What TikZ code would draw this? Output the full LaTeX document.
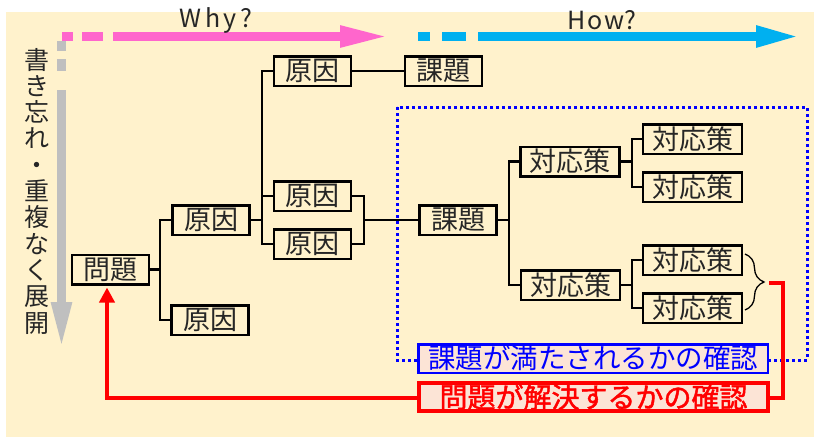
\documentclass[tikz,border=0pt]{standalone}
\usepackage{fontspec}
\setmainfont{Noto Sans CJK JP}
\newfontfamily\semibold{Noto Sans CJK JP}[FakeBold=1.6]
\usetikzlibrary{arrows.meta,decorations.pathreplacing}
\definecolor{bgc}{HTML}{FFF2CC}
\definecolor{pinkc}{HTML}{FF66CC}
\definecolor{skyc}{HTML}{00B0F0}
\definecolor{grayc}{HTML}{BFBFBF}
\definecolor{notefill}{HTML}{FCE4D6}
\definecolor{pureblue}{HTML}{0000FF}
\definecolor{purered}{HTML}{FF0000}
\begin{document}
\begin{tikzpicture}[x=1pt,y=-1pt,
  box/.style={draw=black,line width=2.5pt,fill=bgc,inner sep=0pt,minimum height=29.5pt,
    font=\fontsize{27}{28}\selectfont,text=black!85},
  box2/.style={box,minimum width=77pt},
  box3/.style={box,minimum width=99pt},
  conn/.style={line width=2.5pt,black},
  bigarrow/.style={line width=8.4pt},
  redline/.style={line width=4pt,purered},
  headlbl/.style={font=\fontsize{25}{26}\selectfont,text=black!85},
]
\useasboundingbox (0,0) rectangle (814,437);
\fill[white] (0,0) rectangle (814,437);
\fill[bgc] (6,12) rectangle (814,437);

% direction arrows
\fill[pinkc] (62,32.3) rectangle (73,40.7);
\fill[pinkc] (82,32.3) rectangle (103,40.7);
\draw[bigarrow,pinkc,-{Triangle[length=48pt,width=20pt]}] (113,36.5) -- (388,36.5);
\node[headlbl] (why) at (216,20.5) {W\hspace{3.5pt}h\hspace{3.5pt}y\hspace{3.5pt}?};

\fill[skyc] (418,32.3) rectangle (430,40.7);
\fill[skyc] (442,32.3) rectangle (466,40.7);
\draw[bigarrow,skyc,-{Triangle[length=43pt,width=20pt]}] (478,36.5) -- (799,36.5);
\node[headlbl] (how) at (602,20.5) {H\hspace{2pt}o\hspace{2pt}w?};

\fill[grayc] (57.3,41) rectangle (65.7,51);
\fill[grayc] (57.3,59) rectangle (65.7,71);
\draw[bigarrow,grayc,-{Triangle[length=46pt,width=19pt]}] (61.5,90) -- (61.5,348);

\node[font=\fontsize{25}{26.3}\selectfont,align=center,inner sep=0pt,text=black!85] (vtext) at (37,191)
  {書\\き\\忘\\れ\\・\\重\\複\\な\\く\\展\\開};

% blue dotted frame
\draw[pureblue,line width=3pt,dash pattern=on 3pt off 3pt] (397,107) rectangle (807,360);

% tree nodes
\node[box2] (mondai) at (110.5,269.5) {問題};
\node[box2] (g1a) at (211,220) {原因};
\node[box2] (g1b) at (210,320) {原因};
\node[box2] (g2a) at (312.5,71) {原因};
\node[box2] (kadai1) at (443.5,71) {課題};
\node[box2] (g2b) at (312.5,196) {原因};
\node[box2] (g2c) at (312.5,244) {原因};
\node[box2] (kadai2) at (458,220) {課題};
\node[box3] (t1) at (570,161.5) {対応策};
\node[box3] (t2) at (570.5,285) {対応策};
\node[box3] (t11) at (692.5,139) {対応策};
\node[box3] (t12) at (692.5,187) {対応策};
\node[box3] (t21) at (692.5,260) {対応策};
\node[box3] (t22) at (692.5,308) {対応策};

\coordinate (j1) at (160,269.5);
\coordinate (j2) at (262,220);
\coordinate (j3) at (364,220);
\coordinate (j4) at (509,220);
\coordinate (j5) at (632,161.5);
\coordinate (j6) at (632,285);

\draw[conn] (mondai.east) -- (j1);
\draw[conn] (g1a.west) -| (j1);
\draw[conn] (g1b.west) -| (j1);
\draw[conn] (g1a.east) -- (j2);
\draw[conn] (g2a.west) -| (j2);
\draw[conn] (g2b.west) -| (j2);
\draw[conn] (g2c.west) -| (j2);
\draw[conn] (g2a.east) -- (kadai1.west);
\draw[conn] (g2b.east) -| (j3);
\draw[conn] (g2c.east) -| (j3);
\draw[conn] (j3) -- (kadai2.west);
\draw[conn] (kadai2.east) -- (j4);
\draw[conn] (t1.west) -| (j4);
\draw[conn] (t2.west) -| (j4);
\draw[conn] (t1.east) -- (j5);
\draw[conn] (t11.west) -| (j5);
\draw[conn] (t12.west) -| (j5);
\draw[conn] (t2.east) -- (j6);
\draw[conn] (t21.west) -| (j6);
\draw[conn] (t22.west) -| (j6);

% brace
\draw[line width=1.3pt,decorate,decoration={brace,amplitude=19pt}] (745,254) -- (745,310);
\coordinate (bt) at (769,282.5);
\coordinate (rc) at (783,282.5);

% red feedback line
\draw[redline,-{Triangle[length=15pt,width=15pt]}] (bt) -- (rc) -- (rc |- 0,398) -- (107,398) -- ([xshift=-3.5pt,yshift=-2pt]mondai.south);

% note boxes
\node[draw=pureblue,line width=2.5pt,fill=notefill,inner sep=0pt,minimum width=349.5pt,minimum height=28.5pt,
  text=pureblue,font=\fontsize{27.5}{28}\selectfont] (check1) at (593,358.5) {課題が満たされるかの確認};
\node[draw=purered,line width=4pt,fill=notefill,inner sep=0pt,minimum width=349pt,minimum height=28pt,
  text=purered,font=\semibold\fontsize{28}{28}\selectfont] (check2) at (593.5,397) {問題が解決するかの確認};
\end{tikzpicture}
\end{document}
